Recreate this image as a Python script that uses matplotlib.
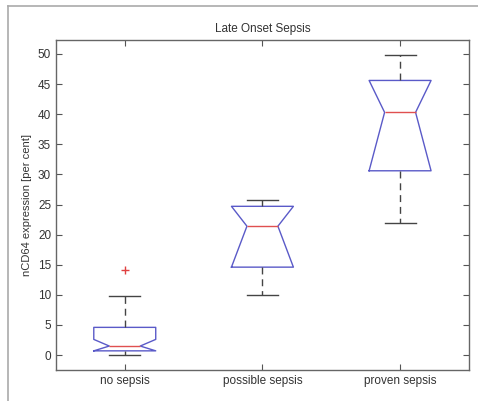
import matplotlib

matplotlib.use("Agg")
import matplotlib.pyplot as plt
from matplotlib.lines import Line2D

plt.rcParams["font.family"] = ["Liberation Sans", "DejaVu Sans"]

groups = ["no sepsis", "possible sepsis", "proven sepsis"]
whisker_low = [0.0, 10.05, 21.95]
q1 = [0.7, 14.6, 30.6]
median = [1.5, 21.4, 40.3]
q3 = [4.6, 24.7, 45.6]
whisker_high = [9.8, 25.8, 49.8]
notch_low = [0.7, 14.6, 30.6]
notch_high = [2.6, 24.7, 45.6]
outliers = [[14.1], [], []]

stats = []
for i, name in enumerate(groups):
    stats.append({
        "label": name,
        "whislo": whisker_low[i],
        "q1": q1[i],
        "med": median[i],
        "q3": q3[i],
        "whishi": whisker_high[i],
        "cilo": notch_low[i],
        "cihi": notch_high[i],
        "fliers": outliers[i],
    })

fig = plt.figure(figsize=(4.78, 4.01), dpi=100)
ax = fig.add_axes([0.117, 0.077, 0.864, 0.823])

box_col = "#5a5ac8"
ax.bxp(
    stats,
    positions=[1, 2, 3],
    widths=0.45,
    shownotches=True,
    boxprops=dict(color=box_col, linewidth=1.0),
    medianprops=dict(color="#e05050", linewidth=1.0),
    whiskerprops=dict(color="#444444", linewidth=1.0, linestyle=(0, (5, 3.5))),
    capprops=dict(color="#444444", linewidth=1.0),
    flierprops=dict(marker="+", markeredgecolor="#e04040", markersize=6, linestyle="none"),
)

ax.set_xlim(0.5, 3.5)
ax.set_ylim(-2.5, 52.3)
ax.set_yticks(range(0, 51, 5))
ax.set_xticks([1, 2, 3])
ax.set_xticklabels(groups)
ax.tick_params(direction="in", length=4, top=True, right=True, labelsize=8.5,
               colors="#555555", labelcolor="#333333")
for sp in ax.spines.values():
    sp.set_color("#666666")
    sp.set_linewidth(1.0)

ax.set_title("Late Onset Sepsis", fontsize=8.5, color="#333333", pad=6)
ax.set_ylabel("nCD64 expression [per cent]", fontsize=8, color="#333333", labelpad=4)

# light gray frame along the left and top edges
fig.add_artist(Line2D([8 / 478, 8 / 478], [0, 1 - 6 / 401], transform=fig.transFigure,
                      color="#aaaaaa", linewidth=1.2))
fig.add_artist(Line2D([8 / 478, 1], [1 - 6 / 401, 1 - 6 / 401], transform=fig.transFigure,
                      color="#aaaaaa", linewidth=1.2))

fig.savefig("out.png", dpi=100)
